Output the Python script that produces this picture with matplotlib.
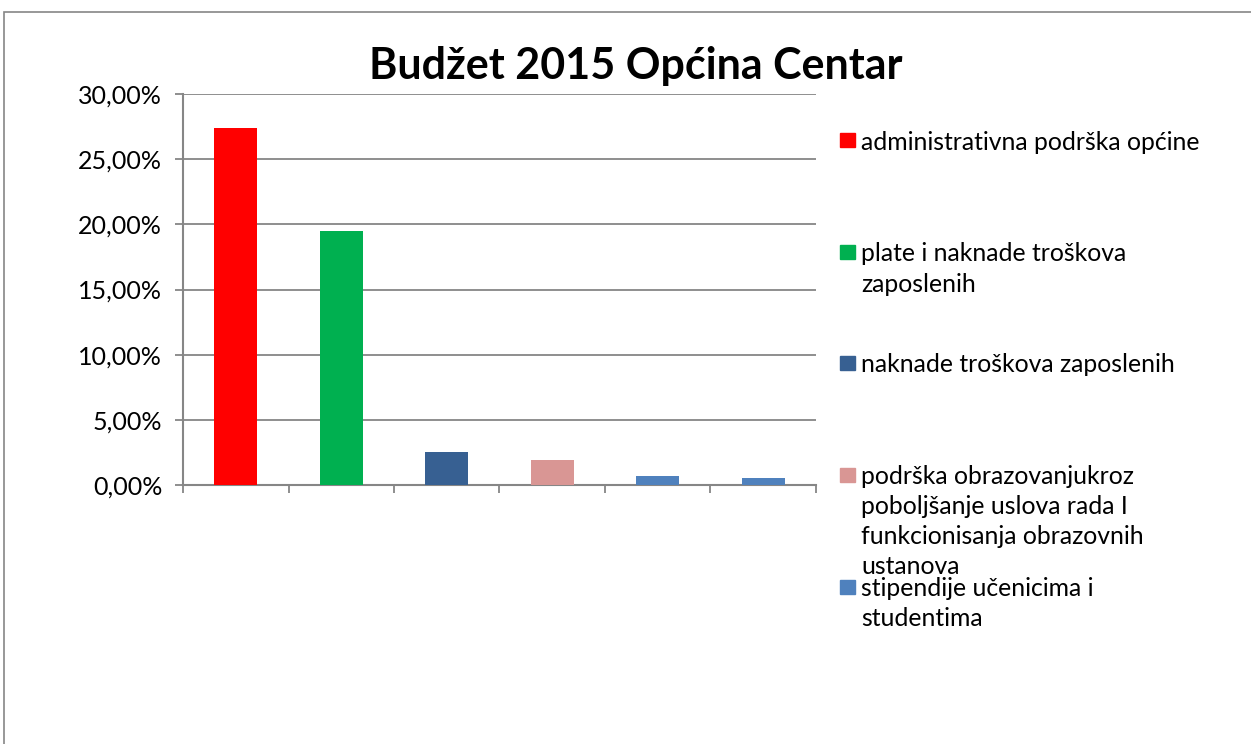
import matplotlib
matplotlib.use('Agg')
import matplotlib.pyplot as plt
from matplotlib.patches import Rectangle
from matplotlib.ticker import FuncFormatter

plt.rcParams['font.family'] = ['Lato', 'DejaVu Sans']

title = 'Budžet 2015 Općina Centar'
values = [27.4, 19.5, 2.5, 1.9, 0.7, 0.55]
bar_colors = ['#FF0000', '#00B050', '#376092', '#D99694', '#4F81BD', '#4F81BD']
legend_labels = [
    'administrativna podrška općine',
    'plate i naknade troškova\nzaposlenih',
    'naknade troškova zaposlenih',
    'podrška obrazovanjukroz\npoboljšanje uslova rada I\nfunkcionisanja obrazovnih\nustanova',
    'stipendije učenicima i\nstudentima',
]
yticks = [0, 5, 10, 15, 20, 25, 30]

W, H = 1251, 744
GRID = '#868686'

fig = plt.figure(figsize=(W / 100, H / 100), dpi=100)
fig.patch.set_facecolor('white')

# outer chart border
fig.add_artist(Rectangle((4 / W, -0.01), 1.05, 1 - 12 / H + 0.01,
                         transform=fig.transFigure, fill=False,
                         edgecolor=GRID, lw=1.2))

ax = fig.add_axes([183 / W, 1 - 485 / H, 633 / W, 391 / H])
x = range(len(values))
ax.bar(x, values, width=0.41, color=bar_colors, zorder=3)
ax.set_xlim(-0.5, len(values) - 0.5)
ax.set_ylim(0, 30)
ax.set_yticks(yticks)
ax.yaxis.set_major_formatter(FuncFormatter(lambda v, p: f'{v:.2f}%'.replace('.', ',')))
ax.set_xticks([i - 0.5 for i in range(len(values) + 1)])
ax.set_xticklabels([])
ax.grid(axis='y', color=GRID, lw=1.3, zorder=0)
for side in ['top', 'right']:
    ax.spines[side].set_visible(False)
for side in ['left', 'bottom']:
    ax.spines[side].set_color(GRID)
    ax.spines[side].set_linewidth(1.5)
ax.tick_params(axis='both', color=GRID, width=1.3, length=6, direction='out')
ax.tick_params(axis='y', labelsize=18, pad=9, labelcolor='black')

fig.text(636 / W, 1 - 66 / H, title, fontsize=31, weight='bold',
         ha='center', va='center')

# legend: one square per entry, text lines 30 px apart
leg_y = [140, 252, 363, 475, 587]
for lab, col, yy in zip(legend_labels, bar_colors, leg_y):
    fig.add_artist(Rectangle((840 / W, 1 - (yy + 7) / H), 15 / W, 14 / H,
                             transform=fig.transFigure, color=col))
    for i, line in enumerate(lab.split('\n')):
        fig.text(861 / W, 1 - (yy + 2 + 30 * i) / H, line, fontsize=17.8,
                 ha='left', va='center')

fig.savefig('out.png', dpi=100, facecolor='white')
